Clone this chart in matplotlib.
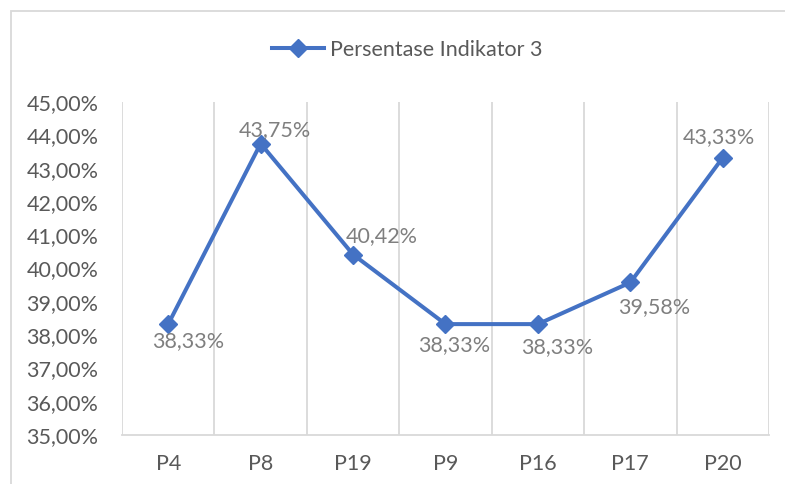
import matplotlib
matplotlib.use("Agg")
import matplotlib.pyplot as plt
from matplotlib.patches import Rectangle

categories = ["P4", "P8", "P19", "P9", "P16", "P17", "P20"]
values = [38.33, 43.75, 40.42, 38.33, 38.33, 39.58, 43.33]
series_name = "Persentase Indikator 3"
y_ticks = [35, 36, 37, 38, 39, 40, 41, 42, 43, 44, 45]

# label offsets in pixels (dx, dy)
label_offsets = [(20, -17), (14, 14), (29, 18), (9, -21), (19, -23), (24, -25), (-4, 21)]

plt.rcParams['font.family'] = ['Lato', 'DejaVu Sans']

W, H, DPI = 785, 484, 100
FS = 15.5
fig = plt.figure(figsize=(W / DPI, H / DPI), dpi=DPI)
fig.patch.set_facecolor("white")

# outer chart frame
fig.patches.append(Rectangle((11 / W, -0.1), 1.2, (H - 11) / H + 0.1,
                             transform=fig.transFigure, fill=False,
                             edgecolor="#d9d9d9", linewidth=1.3))

ax = fig.add_axes([122 / W, 49 / H, (769 - 122) / W, (435 - 102) / H])
x = list(range(len(categories)))
line_color = "#4472C4"
ax.plot(x, values, color=line_color, linewidth=2.9, marker="D", markersize=9,
        label=series_name, solid_joinstyle="round")

ax.set_xlim(-0.5, len(categories) - 0.5)
ax.set_ylim(35, 45)
ax.set_yticks(y_ticks)
ax.set_yticklabels([f"{v:.2f}".replace(".", ",") + "%" for v in y_ticks])
ax.set_xticks(x)
ax.set_xticklabels(categories)

for b in range(len(categories) + 1):
    ax.axvline(b - 0.5, color="#d9d9d9", linewidth=1.3, zorder=0)

for s in ["top", "right", "left"]:
    ax.spines[s].set_visible(False)
ax.spines["bottom"].set_color("#d9d9d9")
ax.spines["bottom"].set_linewidth(1.3)

ax.tick_params(axis="both", length=0, colors="#595959", labelsize=FS)
ax.tick_params(axis="y", pad=17)
ax.tick_params(axis="x", pad=14)

for xi, v, (dx, dy) in zip(x, values, label_offsets):
    ax.annotate(f"{v:.2f}".replace(".", ",") + "%", (xi, v),
                xytext=(dx * 72 / DPI, dy * 72 / DPI), textcoords="offset points",
                ha="center", va="center", color="#7f7f7f", fontsize=FS)

leg = fig.legend(loc="center", bbox_to_anchor=(0.519, (H - 50) / H), frameon=False,
                 fontsize=FS, handlelength=2.4, handletextpad=0.3)
for t in leg.get_texts():
    t.set_color("#595959")

fig.savefig("out.png", dpi=DPI, facecolor="white")
